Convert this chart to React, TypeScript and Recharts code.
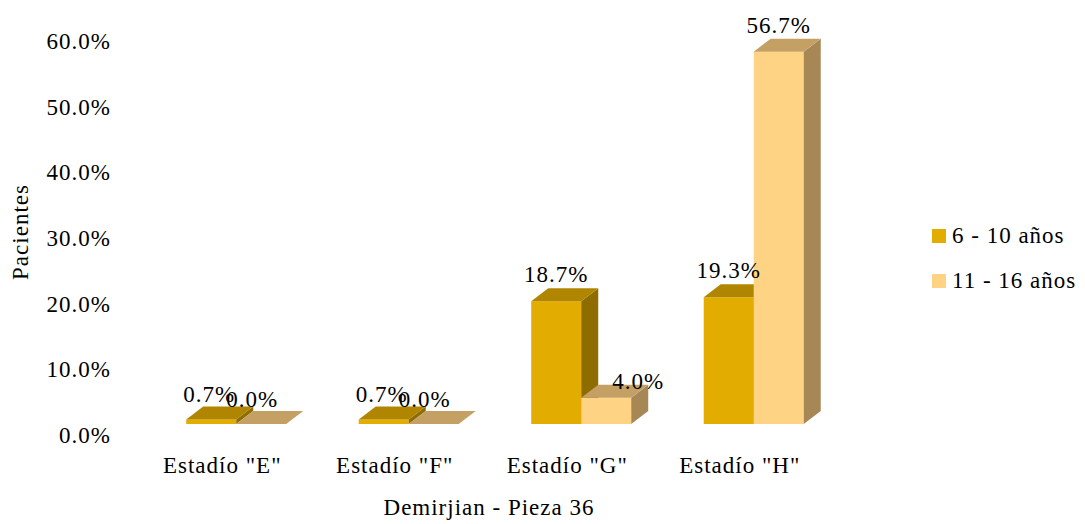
import React from "react";
import { BarChart, Bar, XAxis, YAxis, Legend, LabelList } from "recharts";

const stages = ['Estadío "E"', 'Estadío "F"', 'Estadío "G"', 'Estadío "H"'];
const age6to10 = [0.7, 0.7, 18.7, 19.3];
const age11to16 = [0.0, 0.0, 4.0, 56.7];
const yTicks = [0, 10, 20, 30, 40, 50, 60];

const seriesNames = ["6 - 10 años", "11 - 16 años"];

const data = stages.map((stage, i) => ({
  stage,
  a: age6to10[i],
  b: age11to16[i],
}));

const FONT = '"Liberation Serif", "Times New Roman", serif';
const TEXT_STYLE = { fontFamily: FONT, fontSize: 23, letterSpacing: 1, fill: "#000" };

// depth of the fake 3d extrusion
const DX = 17;
const DY = 13;

const palette = {
  a: { front: "#E2AC00", top: "#B08600", side: "#8F6C00" },
  b: { front: "#FFD384", top: "#C4A064", side: "#A78755" },
};

const makeBox = (colors) => (props) => {
  const { x, y, width, height } = props;
  const w = width;
  const h = Math.max(height || 0, 0);
  const top = `${x},${y} ${x + DX},${y - DY} ${x + w + DX},${y - DY} ${x + w},${y}`;
  const side = `${x + w},${y} ${x + w + DX},${y - DY} ${x + w + DX},${y + h - DY} ${x + w},${y + h}`;
  return (
    <g>
      <rect x={x} y={y} width={w} height={h} fill={colors.front} />
      <polygon points={side} fill={colors.side} />
      <polygon points={top} fill={colors.top} />
    </g>
  );
};

// small shifts so the labels don't collide with neighbouring boxes
const labelShift = {
  a: [{ dx: -2, dy: 2 }, { dx: -2, dy: 2 }, { dx: 0, dy: 0 }, { dx: 0, dy: 0 }],
  b: [{ dx: -9, dy: 2 }, { dx: -9, dy: 2 }, { dx: 32, dy: 10 }, { dx: 0, dy: 0 }],
};

const makeLabel = (key) => (props) => {
  const { x, y, width, value, index } = props;
  const s = labelShift[key][index] || { dx: 0, dy: 0 };
  return (
    <text
      x={x + width / 2 + s.dx}
      y={y - 19 + s.dy}
      textAnchor="middle"
      style={TEXT_STYLE}
    >
      {`${Number(value).toFixed(1)}%`}
    </text>
  );
};

const YTick = (props) => {
  const { x, y, payload } = props;
  return (
    <text x={x + 1} y={y + 19} textAnchor="end" style={TEXT_STYLE}>
      {`${Number(payload.value).toFixed(1)}%`}
    </text>
  );
};

const XTick = (props) => {
  const { x, y, payload } = props;
  return (
    <text x={x - 14} y={y + 49} textAnchor="middle" style={TEXT_STYLE}>
      {payload.value}
    </text>
  );
};

const LegendBox = () => (
  <div style={{ fontFamily: FONT, fontSize: 23, letterSpacing: 1, color: "#000" }}>
    {seriesNames.map((name, i) => (
      <div
        key={name}
        style={{
          display: "flex",
          alignItems: "center",
          height: 28,
          marginBottom: i === 0 ? 17 : 0,
          whiteSpace: "nowrap",
        }}
      >
        <span
          style={{
            display: "inline-block",
            width: 14,
            height: 14,
            marginRight: 6,
            background: i === 0 ? palette.a.front : palette.b.front,
          }}
        />
        <span>{name}</span>
      </div>
    ))}
  </div>
);

export default function App() {
  return (
    <div style={{ position: "absolute", left: 0, top: 0, width: 1085, height: 524, background: "#fff" }}>
      <BarChart
        width={1085}
        height={524}
        data={data}
        margin={{ top: 30, right: 245, bottom: 70, left: 90 }}
        barCategoryGap="21%"
        barGap={0}
      >
        <XAxis
          dataKey="stage"
          axisLine={false}
          tickLine={false}
          tickSize={0}
          tickMargin={0}
          height={30}
          interval={0}
          tick={<XTick />}
          label={({ viewBox }) => {
            const vb = viewBox || {};
            return (
              <text
                x={vb.x + vb.width / 2 - 6}
                y={vb.y + vb.height + 61}
                textAnchor="middle"
                style={TEXT_STYLE}
              >
                Demirjian - Pieza 36
              </text>
            );
          }}
        />
        <YAxis
          domain={[0, 60]}
          ticks={yTicks}
          axisLine={false}
          tickLine={false}
          tickSize={0}
          tickMargin={40}
          width={60}
          tick={<YTick />}
          label={({ viewBox }) => {
            const vb = viewBox || {};
            const cx = vb.x - 70;
            const cy = vb.y + vb.height / 2 + 5;
            return (
              <text
                x={cx}
                y={cy}
                transform={`rotate(-90, ${cx}, ${cy})`}
                textAnchor="middle"
                dominantBaseline="central"
                style={TEXT_STYLE}
              >
                Pacientes
              </text>
            );
          }}
        />
        <Legend
          layout="vertical"
          align="center"
          verticalAlign="middle"
          content={<LegendBox />}
          wrapperStyle={{ left: 932, top: 222, width: 160 }}
        />
        <Bar dataKey="a" name={seriesNames[0]} isAnimationActive={false} shape={makeBox(palette.a)}>
          <LabelList dataKey="a" content={makeLabel("a")} />
        </Bar>
        <Bar dataKey="b" name={seriesNames[1]} isAnimationActive={false} shape={makeBox(palette.b)}>
          <LabelList dataKey="b" content={makeLabel("b")} />
        </Bar>
      </BarChart>
    </div>
  );
}
